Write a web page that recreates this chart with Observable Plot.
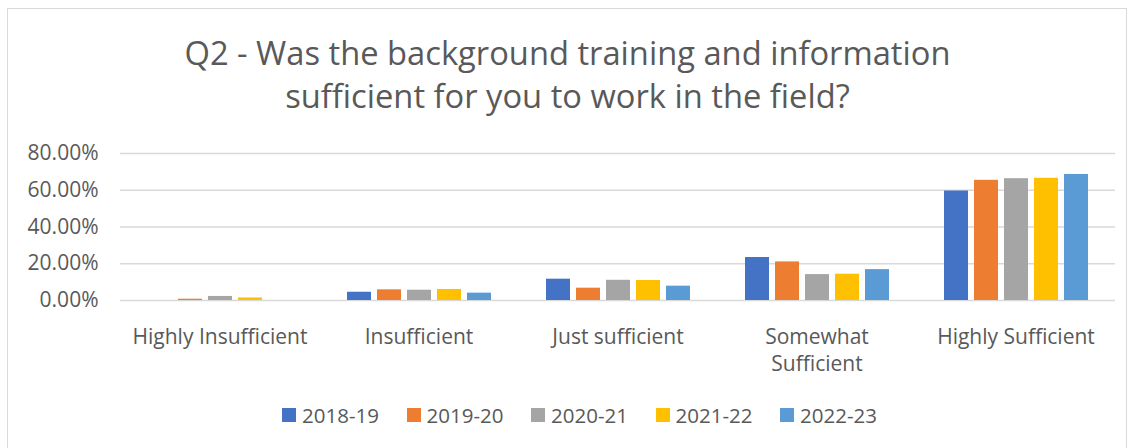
<!DOCTYPE html>
<html>
<head>
<meta charset="utf-8">
<script src="https://cdn.jsdelivr.net/npm/d3@7"></script>
<script src="https://cdn.jsdelivr.net/npm/@observablehq/plot@0.6"></script>
<style>
  html, body { margin: 0; padding: 0; background: #fff; }
  #page { position: relative; width: 1135px; height: 448px; overflow: hidden; font-family: "Open Sans", sans-serif; color: #595959; }
  #frame { position: absolute; left: 7px; top: 8px; width: 1120px; height: 460px; border: 1.5px solid #d9d9d9; box-sizing: border-box; }
  #title { position: absolute; left: 0; top: 31px; width: 1135px; text-align: center; font-size: 32.7px; line-height: 43px; color: #595959; }
  #plot { position: absolute; left: 0; top: 140px; }
  #legend { position: absolute; left: 282px; top: 404px; display: flex; align-items: center; font-size: 20.5px; line-height: 22px; color: #595959; }
  .item { display: flex; align-items: center; width: 124.5px; }
  .item:last-child { width: auto; }
  .sw { width: 14px; height: 14px; margin-right: 6px; }
</style>
</head>
<body>
<div id="page">
  <div id="frame"></div>
  <div id="title"></div>
  <div id="plot"></div>
  <div id="legend"></div>
</div>
<script>
const titleLines = ["Q2 - Was the background training and information", "sufficient for you to work in the field?"];
const categories = ["Highly Insufficient", "Insufficient", "Just sufficient", "Somewhat Sufficient", "Highly Sufficient"];
const categoryLabels = ["Highly Insufficient", "Insufficient", "Just sufficient", "Somewhat\nSufficient", "Highly Sufficient"];
const years = ["2018-19", "2019-20", "2020-21", "2021-22", "2022-23"];
const v2018_19 = [0.0, 4.5, 11.6, 23.4, 59.6];
const v2019_20 = [0.7, 5.8, 6.7, 21.0, 65.4];
const v2020_21 = [2.2, 5.6, 11.0, 14.1, 66.3];
const v2021_22 = [1.4, 6.0, 10.9, 14.3, 66.5];
const v2022_23 = [0.0, 4.0, 7.8, 16.8, 68.6];
const colors = ["#4472C4", "#ED7D31", "#A5A5A5", "#FFC000", "#5B9BD5"];
const yTicks = [0, 20, 40, 60, 80];

const series = [v2018_19, v2019_20, v2020_21, v2021_22, v2022_23];
const data = [];
categories.forEach((c, i) => years.forEach((y, j) => data.push({category: c, year: y, value: series[j][i]})));

document.getElementById("title").innerHTML = titleLines.map(t => `<div>${t}</div>`).join("");

const chart = Plot.plot({
  width: 1135,
  height: 250,
  marginLeft: 119,
  marginRight: 20,
  marginTop: 13,
  marginBottom: 90,
  style: {fontFamily: "Open Sans, sans-serif", fontSize: "21px", color: "#595959", background: "transparent", overflow: "visible"},
  fx: {domain: categories, padding: 0},
  x: {domain: years, paddingInner: 0.2, paddingOuter: 0.87, axis: null},
  y: {domain: [0, 80]},
  color: {domain: years, range: colors},
  marks: [
    Plot.ruleY(yTicks, {stroke: "#d9d9d9", strokeWidth: 1.5}),
    Plot.barY(data, {fx: "category", x: "year", y: "value", fill: "year"}),
    Plot.axisY({ticks: yTicks, tickFormat: d => d.toFixed(2) + "%", tickSize: 0, tickPadding: 22, fontSize: 21, label: null}),
    Plot.axisFx({anchor: "bottom", tickSize: 0, tickPadding: 24, fontSize: 21, lineHeight: 1.3, label: null,
      tickFormat: d => categoryLabels[categories.indexOf(d)]})
  ]
});
document.getElementById("plot").appendChild(chart);

const legend = document.getElementById("legend");
years.forEach((y, i) => {
  const it = document.createElement("div");
  it.className = "item";
  it.innerHTML = `<div class="sw" style="background:${colors[i]}"></div><span>${y}</span>`;
  legend.appendChild(it);
});
</script>
</body>
</html>
